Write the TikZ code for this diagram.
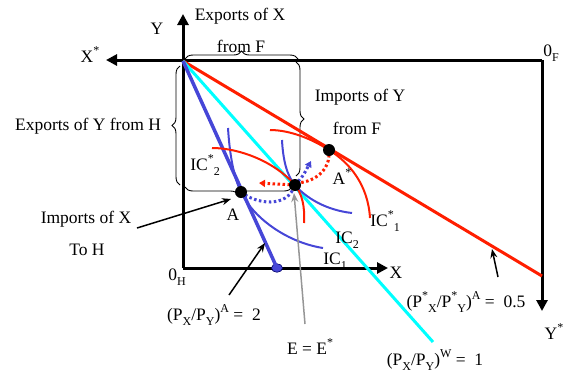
\documentclass[tikz,border=0pt]{standalone}
\usepackage{fontspec}
\setmainfont{Liberation Serif}
\usetikzlibrary{arrows.meta,decorations.pathreplacing,shapes.geometric}
\definecolor{myred}{RGB}{255,30,0}
\definecolor{mycyan}{RGB}{0,255,255}
\definecolor{myblue}{RGB}{70,70,215}
\definecolor{mygray}{RGB}{150,150,150}
\newcommand{\lsub}[1]{\raisebox{-0.32em}{\fontsize{12}{12}\selectfont #1}}
\newcommand{\lsup}[1]{\raisebox{0.42em}{\fontsize{12}{12}\selectfont #1}}
\begin{document}
\begin{tikzpicture}[x=1pt,y=-1pt,
  lbl/.style={font=\fontsize{17.5}{20}\selectfont, inner sep=0pt, text height=12.5pt, text depth=4pt},
  axisline/.style={line width=3pt, -{Triangle[length=11pt,width=11pt]}},
  plainaxis/.style={line width=3pt},
  priceline/.style={line width=3pt},
  icblue/.style={myblue, line width=2pt},
  icred/.style={myred, line width=2pt},
  dotpath/.style={line width=3pt, dash pattern=on 2.5pt off 2.5pt},
  eqdot/.style={circle, fill=black, minimum size=12pt, inner sep=0pt},
  ann/.style={line width=1.5pt, -{Stealth[length=9pt,width=7pt]}},
  bracedec/.style={decorate, decoration={brace, amplitude=8pt}, line width=0.9pt},
]
\useasboundingbox (0,0) rectangle (565,376);

% corners
\coordinate (OH) at (183,268);
\coordinate (OF) at (542,60);
\coordinate (C) at (183,60);
\coordinate (Ytip) at (183,14);
\coordinate (Xtip) at (388,268);
\coordinate (XStip) at (106,60);
\coordinate (YStip) at (542,311);

% axes
\draw[plainaxis] (OH) -- (C);
\draw[axisline] (C) -- (Ytip);
\draw[axisline] (OH) -- (Xtip);
\draw[axisline] (OF) -- (XStip);
\draw[axisline] (OF) -- (YStip);

% braces
\draw[bracedec] (185,59) -- (298,59);
\draw[bracedec] (296,62) -- (296,176);
\draw[bracedec] (180,185) -- (180,66);
\draw[bracedec] (292,187) -- (185,187);

% price lines
\coordinate (L0) at (183,61);
\coordinate (Rend) at (542,276);
\coordinate (Cend) at (433,342);
\node[ellipse, fill=myblue, draw=black!60!blue, line width=0.6pt, minimum width=11pt, minimum height=8.5pt, inner sep=0pt] (B) at (277,268) {};
\draw[priceline, myred] (L0) -- (Rend);
\draw[priceline, mycyan] (L0) -- (Cend);
\draw[priceline, myblue, line width=3.5pt] (L0) -- (B.center);

% equilibrium points
\coordinate (Ap) at (241,192);
\coordinate (Ep) at (295,185);
\coordinate (ASp) at (329,150);

% indifference curves
\draw[icblue] (228,128) .. controls (230,160) and (235,180) .. (Ap) .. controls (252,216) and (285,242) .. (323,248);
\draw[icblue] (282,140) .. controls (283,160) and (287,176) .. (Ep) .. controls (305,197) and (325,210) .. (352,213);
\draw[icred] (270,130) .. controls (290,130) and (312,139) .. (ASp) .. controls (350,163) and (368,185) .. (370,218);
\draw[icred] (212,148) .. controls (240,148) and (275,162) .. (Ep) .. controls (302,194) and (305,206) .. (304,223);

% dotted adjustment paths
\coordinate (rdEnd) at (259,183);
\coordinate (bdEnd) at (311,161);
\draw[dotpath, myred] (ASp) .. controls (331,172) and (312,183) .. (295,183);
\draw[dotpath, myred, -{Triangle[length=6pt,width=7pt]}] (Ep) -- (rdEnd);
\draw[dotpath, myblue] (Ap) .. controls (256,204) and (287,209) .. (Ep);
\draw[dotpath, myblue, -{Triangle[length=6pt,width=7pt]}] (Ep) .. controls (303,176) .. (bdEnd);

% dots
\node[eqdot] (A) at (Ap) {};
\node[eqdot] (E) at (Ep) {};
\node[eqdot] (AS) at (ASp) {};

% labels
\node[lbl] (ylab) at (157,30) {Y};
\node[lbl] (exX1) at (240,16) {Exports of X};
\node[lbl] (exX2) at (241,48) {from F};
\node[lbl] (xstar) at (90,58) {X\lsup{*}};
\node[lbl] (exY) at (88,126) {Exports of Y from H};
\node[lbl] (imY1) at (360,97) {Imports of Y};
\node[lbl] (imY2) at (357,130) {from F};
\node[lbl] (zf) at (551,52) {0\lsub{F}};
\node[lbl] (ics2) at (205,166) {IC\lsup{*}\lsub{2}};
\node[lbl] (Alab) at (233,216) {A};
\node[lbl] (Aslab) at (342,180) {A\lsup{*}};
\node[lbl] (ics1) at (385,222) {IC\lsup{*}\lsub{1}};
\node[lbl] (ic2) at (347,239) {IC\lsub{2}};
\node[lbl] (ic1) at (335,260) {IC\lsub{1}};
\node[lbl] (xlab) at (396,274) {X};
\node[lbl] (zh) at (177,276) {0\lsub{H}};
\node[lbl] (imX1) at (86,219) {Imports of X};
\node[lbl] (imX2) at (87,251) {To H};
\node[lbl] (pa) at (214,316) {(P\lsub{X}/P\lsub{Y})\lsup{A} =~~2};
\node[lbl] (ee) at (310,350) {E = E\lsup{*}};
\node[lbl] (pw) at (435,361) {(P\lsub{X}/P\lsub{Y})\lsup{W} =~~1};
\node[lbl] (pfa) at (466,303) {(P\lsup{*}\lsub{X}/P\lsup{*}\lsub{Y})\lsup{A} =~~0.5};
\node[lbl] (ysl) at (554,335) {Y\lsup{*}};

% annotation arrows
\coordinate (a1s) at (137,228); \coordinate (a1e) at (231,199);
\coordinate (a2s) at (229,295); \coordinate (a2e) at (265,243);
\coordinate (a3s) at (305,324); \coordinate (a3e) at (294,193);
\coordinate (a4s) at (498,277); \coordinate (a4e) at (492,249);
\draw[ann] (a1s) -- (a1e);
\draw[ann] (a2s) -- (a2e);
\draw[ann, mygray] (a3s) -- (a3e);
\draw[ann] (a4s) -- (a4e);
\end{tikzpicture}
\end{document}
